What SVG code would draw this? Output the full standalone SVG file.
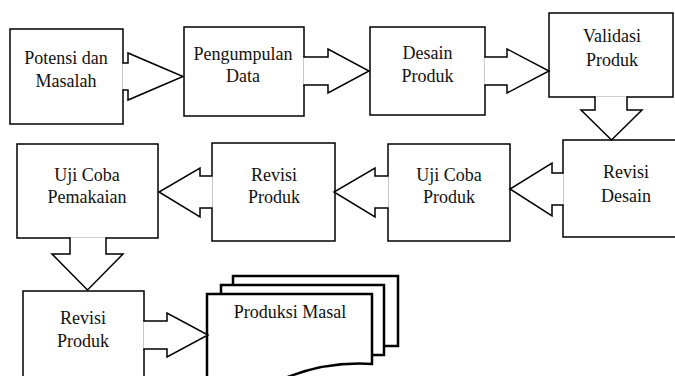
<svg xmlns="http://www.w3.org/2000/svg" width="675" height="376" viewBox="0 0 675 376" font-family="'Liberation Serif', 'DejaVu Serif', serif">
<style>
.box{fill:#fff;stroke:#000;stroke-width:1.5}
.arr{fill:#fff;stroke:#000;stroke-width:1.5;stroke-linejoin:miter}
.doc{fill:#fff;stroke:#000;stroke-width:2.5}
.t{font-family:'Liberation Serif','DejaVu Serif',serif;font-size:18px;fill:#111;text-anchor:middle}
</style>
<rect width="675" height="376" fill="#fff"/>
<g id="node-potensi"><rect class="box" x="10" y="29" width="113" height="95"/><text class="t" x="66" y="64">Potensi dan</text><text class="t" x="66" y="87">Masalah</text></g>
<g id="node-pengumpulan"><rect class="box" x="184" y="27" width="120" height="89"/><text class="t" x="243" y="60">Pengumpulan</text><text class="t" x="243" y="82">Data</text></g>
<g id="node-desain"><rect class="box" x="370" y="27" width="115" height="88"/><text class="t" x="427.5" y="59">Desain</text><text class="t" x="427.5" y="82">Produk</text></g>
<g id="node-validasi"><rect class="box" x="549" y="13" width="124" height="84"/><text class="t" x="612" y="42">Validasi</text><text class="t" x="612" y="66">Produk</text></g>
<g id="node-revisi-desain"><rect class="box" x="563" y="140" width="120" height="97"/><text class="t" x="626" y="178">Revisi</text><text class="t" x="626" y="202">Desain</text></g>
<g id="node-ujicoba-produk"><rect class="box" x="388" y="144" width="122" height="97"/><text class="t" x="449" y="181">Uji Coba</text><text class="t" x="449" y="203">Produk</text></g>
<g id="node-revisi-produk-1"><rect class="box" x="212" y="143" width="123" height="98"/><text class="t" x="274" y="181">Revisi</text><text class="t" x="274" y="203">Produk</text></g>
<g id="node-ujicoba-pemakaian"><rect class="box" x="17" y="144" width="141" height="94"/><text class="t" x="87" y="181">Uji Coba</text><text class="t" x="87" y="203">Pemakaian</text></g>
<g id="node-revisi-produk-2"><rect class="box" x="23" y="291" width="121" height="100"/><text class="t" x="83" y="324">Revisi</text><text class="t" x="83" y="347">Produk</text></g>
<g id="node-produksi-masal">
<rect class="doc" x="233" y="276" width="165" height="70"/>
<rect class="doc" x="221" y="285" width="163" height="70"/>
<path class="doc" d="M207,294 H372 V364 C340,362 310,368 285,378 C260,388 230,392 207,390 Z"/>
<text class="t" x="290" y="318">Produksi Masal</text>
</g>
<g id="connectors">
<path class="arr" d="M122.3,63 H128 V53 L183,76.5 L128,100 V90 H122.3"/>
<path class="arr" d="M303.3,57 H328 V49 L369,71 L328,93 V85 H303.3"/>
<path class="arr" d="M484.3,57 H507 V49 L549,71 L507,93 V85 H484.3"/>
<path class="arr" d="M595,96.3 V110 H581 L611.5,140 L642,110 H627 V96.3"/>
<path class="arr" d="M563.7,173 H552 V163 L510,189 L552,216 V205 H563.7"/>
<path class="arr" d="M388.7,176 H375 V168 L334,192 L375,217 V208 H388.7"/>
<path class="arr" d="M212.7,176 H200 V168 L159,192 L200,217 V208 H212.7"/>
<path class="arr" d="M70,237.3 V254 H52 L87.5,290 L123,254 H106 V237.3"/>
<path class="arr" d="M143.3,321 H167 V313 L208,335 L167,357 V349 H143.3"/>
</g>
</svg>
